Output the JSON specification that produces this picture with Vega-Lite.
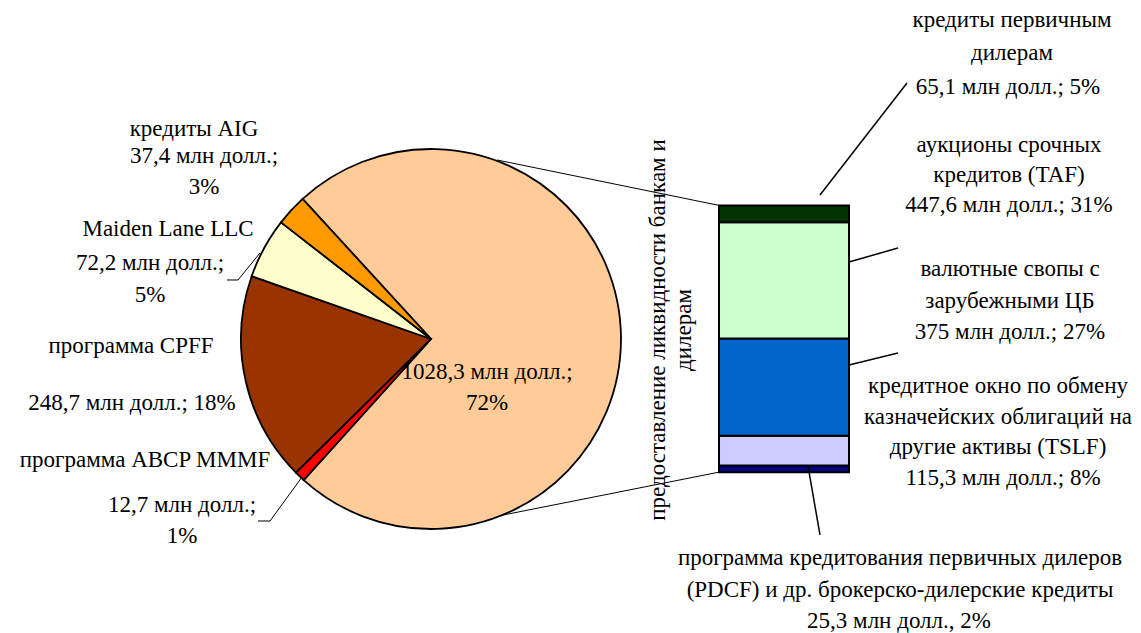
{
  "$schema": "https://vega.github.io/schema/vega-lite/v6.json",
  "width": 1141,
  "height": 633,
  "autosize": {"type": "fit", "contains": "padding"},
  "padding": 0,
  "background": "white",
  "config": {
    "font": "Liberation Serif",
    "view": {"stroke": null},
    "axis": {"disable": true},
    "legend": {"disable": true},
    "text": {"font": "Liberation Serif", "fontSize": 23, "align": "center", "baseline": "alphabetic", "color": "black", "lineHeight": 31},
    "rule": {"color": "black", "strokeWidth": 1}
  },
  "datasets": {
    "pie": [
      {"key": "liquidity", "name": ["предоставление ликвидности банкам и", "дилерам"], "amount": ["1028,3 млн долл.;", "72%"], "value": 1028.3, "ord": 1},
      {"key": "ABCP", "name": "программа ABCP MMMF", "amount": ["12,7 млн долл.;", "1%"], "value": 12.7, "ord": 2},
      {"key": "CPFF", "name": "программа CPFF", "amount": "248,7 млн долл.; 18%", "value": 248.7, "ord": 3},
      {"key": "Maiden", "name": "Maiden Lane LLC", "amount": ["72,2 млн долл.;", "5%"], "value": 72.2, "ord": 4},
      {"key": "AIG", "name": "кредиты AIG", "amount": ["37,4 млн долл.;", "3%"], "value": 37.4, "ord": 5}
    ],
    "bar": [
      {"key": "PDCF", "name": ["программа кредитования первичных дилеров", "(PDCF) и др. брокерско-дилерские кредиты"], "amount": "25,3 млн долл., 2%", "value": 25.3, "ord": 1},
      {"key": "TSLF", "name": ["кредитное окно по обмену", "казначейских облигаций на", "другие активы (TSLF)"], "amount": "115,3 млн долл.; 8%", "value": 115.3, "ord": 2},
      {"key": "swaps", "name": ["валютные свопы с", "зарубежными ЦБ"], "amount": "375 млн долл.; 27%", "value": 375, "ord": 3},
      {"key": "TAF", "name": ["аукционы срочных", "кредитов (TAF)"], "amount": "447,6 млн долл.; 31%", "value": 447.6, "ord": 4},
      {"key": "dealers", "name": ["кредиты первичным", "дилерам"], "amount": "65,1 млн долл.; 5%", "value": 65.1, "ord": 5}
    ]
  },
  "layer": [
    {
      "data": {"values": [{"link": "top"}]},
      "mark": {"type": "rule"},
      "encoding": {
        "x": {"datum": 1916.6, "type": "quantitative", "scale": {"domain": [0, 4400], "nice": false, "zero": false}},
        "y": {"datum": 1203.3, "type": "quantitative", "scale": {"domain": [-620, 1820], "nice": false, "zero": false}},
        "x2": {"datum": 2772.7},
        "y2": {"datum": 1028.3}
      }
    },
    {
      "data": {"values": [{"link": "bottom"}]},
      "mark": {"type": "rule"},
      "encoding": {
        "x": {"datum": 1901.1, "type": "quantitative"},
        "y": {"datum": -172.9, "type": "quantitative"},
        "x2": {"datum": 2772.7},
        "y2": {"datum": 0}
      }
    },
    {
      "data": {"name": "pie"},
      "mark": {"type": "arc", "radius": 190, "stroke": "black", "strokeWidth": 1.8, "x": {"expr": "scale('x', 1662)"}, "y": {"expr": "scale('y', 513.3)"}},
      "encoding": {
        "theta": {"field": "value", "type": "quantitative", "stack": true, "scale": {"range": [-0.7418, 5.5414]}},
        "order": {"field": "ord", "type": "quantitative"},
        "color": {
          "field": "key", "type": "nominal", "legend": null,
          "scale": {
            "domain": ["liquidity", "ABCP", "CPFF", "Maiden", "AIG", "PDCF", "TSLF", "swaps", "TAF", "dealers"],
            "range": ["#FFCC99", "#FF0000", "#993300", "#FFFFCC", "#FF9900", "#000080", "#CCCCFF", "#0066CC", "#CCFFCC", "#003300"]
          }
        }
      }
    },
    {
      "data": {"name": "bar"},
      "transform": [{"stack": "value", "groupby": [], "sort": [{"field": "ord"}], "as": ["b0", "b1"]}],
      "mark": {"type": "rect", "stroke": "black", "strokeWidth": 2, "x": {"expr": "scale('x', 2772.7)"}, "x2": {"expr": "scale('x', 3274.0)"}},
      "encoding": {
        "y": {"field": "b0", "type": "quantitative"},
        "y2": {"field": "b1"},
        "color": {"field": "key", "type": "nominal", "legend": null}
      }
    },
    {
      "data": {"name": "pie"},
      "transform": [{"filter": "datum.key === 'liquidity'"}],
      "layer": [
        {
          "mark": {"type": "text", "font": "Liberation Serif", "angle": 270, "lineHeight": 26},
          "encoding": {"x": {"datum": 2564.5, "type": "quantitative"}, "y": {"datum": 548.0, "type": "quantitative"}, "text": {"field": "name"}}
        },
        {
          "mark": {"type": "text", "font": "Liberation Serif", "lineHeight": 31},
          "encoding": {"x": {"datum": 1878.0, "type": "quantitative"}, "y": {"datum": 359.1, "type": "quantitative"}, "text": {"field": "amount"}}
        }
      ]
    },
    {
      "data": {"name": "pie"},
      "transform": [{"filter": "datum.key === 'AIG'"}],
      "layer": [
        {
          "mark": {"type": "text", "font": "Liberation Serif"},
          "encoding": {"x": {"datum": 748.1, "type": "quantitative"}, "y": {"datum": 1295.8, "type": "quantitative"}, "text": {"field": "name"}}
        },
        {
          "mark": {"type": "text", "font": "Liberation Serif", "lineHeight": 31},
          "encoding": {"x": {"datum": 786.7, "type": "quantitative"}, "y": {"datum": 1191.7, "type": "quantitative"}, "text": {"field": "amount"}}
        }
      ]
    },
    {
      "data": {"name": "pie"},
      "transform": [{"filter": "datum.key === 'Maiden'"}],
      "layer": [
        {
          "mark": {"type": "text", "font": "Liberation Serif"},
          "encoding": {"x": {"datum": 647.9, "type": "quantitative"}, "y": {"datum": 910.3, "type": "quantitative"}, "text": {"field": "name"}}
        },
        {
          "mark": {"type": "text", "font": "Liberation Serif", "lineHeight": 32},
          "encoding": {"x": {"datum": 578.4, "type": "quantitative"}, "y": {"datum": 779.2, "type": "quantitative"}, "text": {"field": "amount"}}
        },
        {
          "mark": {"type": "rule"},
          "encoding": {"x": {"datum": 875.4, "type": "quantitative"}, "y": {"datum": 740.7, "type": "quantitative"}, "x2": {"datum": 917.8}, "y2": {"datum": 740.7}}
        },
        {
          "mark": {"type": "rule"},
          "encoding": {"x": {"datum": 917.8, "type": "quantitative"}, "y": {"datum": 740.7, "type": "quantitative"}, "x2": {"datum": 1002.6}, "y2": {"datum": 844.8}}
        }
      ]
    },
    {
      "data": {"name": "pie"},
      "transform": [{"filter": "datum.key === 'CPFF'"}],
      "layer": [
        {
          "mark": {"type": "text", "font": "Liberation Serif"},
          "encoding": {"x": {"datum": 505.2, "type": "quantitative"}, "y": {"datum": 459.3, "type": "quantitative"}, "text": {"field": "name"}}
        },
        {
          "mark": {"type": "text", "font": "Liberation Serif"},
          "encoding": {"x": {"datum": 509.0, "type": "quantitative"}, "y": {"datum": 239.6, "type": "quantitative"}, "text": {"field": "amount"}}
        }
      ]
    },
    {
      "data": {"name": "pie"},
      "transform": [{"filter": "datum.key === 'ABCP'"}],
      "layer": [
        {
          "mark": {"type": "text", "font": "Liberation Serif"},
          "encoding": {"x": {"datum": 559.2, "type": "quantitative"}, "y": {"datum": 19.9, "type": "quantitative"}, "text": {"field": "name"}}
        },
        {
          "mark": {"type": "text", "font": "Liberation Serif", "lineHeight": 31},
          "encoding": {"x": {"datum": 701.8, "type": "quantitative"}, "y": {"datum": -153.6, "type": "quantitative"}, "text": {"field": "amount"}}
        },
        {
          "mark": {"type": "rule"},
          "encoding": {"x": {"datum": 994.9, "type": "quantitative"}, "y": {"datum": -188.3, "type": "quantitative"}, "x2": {"datum": 1041.2}, "y2": {"datum": -188.3}}
        },
        {
          "mark": {"type": "rule"},
          "encoding": {"x": {"datum": 1041.2, "type": "quantitative"}, "y": {"datum": -188.3, "type": "quantitative"}, "x2": {"datum": 1164.6}, "y2": {"datum": -18.7}}
        }
      ]
    },
    {
      "data": {"name": "bar"},
      "transform": [{"filter": "datum.key === 'dealers'"}],
      "layer": [
        {
          "mark": {"type": "text", "font": "Liberation Serif", "lineHeight": 33},
          "encoding": {"x": {"datum": 3902.5, "type": "quantitative"}, "y": {"datum": 1715.9, "type": "quantitative"}, "text": {"field": "name"}}
        },
        {
          "mark": {"type": "text", "font": "Liberation Serif"},
          "encoding": {"x": {"datum": 3887.1, "type": "quantitative"}, "y": {"datum": 1457.7, "type": "quantitative"}, "text": {"field": "amount"}}
        },
        {
          "mark": {"type": "rule", "strokeWidth": 1.5},
          "encoding": {"x": {"datum": 3162.1, "type": "quantitative"}, "y": {"datum": 1068.3, "type": "quantitative"}, "x2": {"datum": 3497.6}, "y2": {"datum": 1500.1}}
        }
      ]
    },
    {
      "data": {"name": "bar"},
      "transform": [{"filter": "datum.key === 'TAF'"}],
      "layer": [
        {
          "mark": {"type": "text", "font": "Liberation Serif", "lineHeight": 30},
          "encoding": {"x": {"datum": 3891.0, "type": "quantitative"}, "y": {"datum": 1234.1, "type": "quantitative"}, "text": {"field": "name"}}
        },
        {
          "mark": {"type": "text", "font": "Liberation Serif"},
          "encoding": {"x": {"datum": 3891.0, "type": "quantitative"}, "y": {"datum": 1002.8, "type": "quantitative"}, "text": {"field": "amount"}}
        },
        {
          "mark": {"type": "rule", "strokeWidth": 1.5},
          "encoding": {"x": {"datum": 3274.0, "type": "quantitative"}, "y": {"datum": 810.1, "type": "quantitative"}, "x2": {"datum": 3462.9}, "y2": {"datum": 864.0}}
        }
      ]
    },
    {
      "data": {"name": "bar"},
      "transform": [{"filter": "datum.key === 'swaps'"}],
      "layer": [
        {
          "mark": {"type": "text", "font": "Liberation Serif", "lineHeight": 32},
          "encoding": {"x": {"datum": 3894.8, "type": "quantitative"}, "y": {"datum": 756.1, "type": "quantitative"}, "text": {"field": "name"}}
        },
        {
          "mark": {"type": "text", "font": "Liberation Serif"},
          "encoding": {"x": {"datum": 3894.8, "type": "quantitative"}, "y": {"datum": 513.3, "type": "quantitative"}, "text": {"field": "amount"}}
        },
        {
          "mark": {"type": "rule", "strokeWidth": 1.5},
          "encoding": {"x": {"datum": 3274.0, "type": "quantitative"}, "y": {"datum": 413.0, "type": "quantitative"}, "x2": {"datum": 3462.9}, "y2": {"datum": 459.3}}
        }
      ]
    },
    {
      "data": {"name": "bar"},
      "transform": [{"filter": "datum.key === 'TSLF'"}],
      "layer": [
        {
          "mark": {"type": "text", "font": "Liberation Serif", "lineHeight": 30.5},
          "encoding": {"x": {"datum": 3848.6, "type": "quantitative"}, "y": {"datum": 305.1, "type": "quantitative"}, "text": {"field": "name"}}
        },
        {
          "mark": {"type": "text", "font": "Liberation Serif"},
          "encoding": {"x": {"datum": 3867.8, "type": "quantitative"}, "y": {"datum": -49.5, "type": "quantitative"}, "text": {"field": "amount"}}
        }
      ]
    },
    {
      "data": {"name": "bar"},
      "transform": [{"filter": "datum.key === 'PDCF'"}],
      "layer": [
        {
          "mark": {"type": "text", "font": "Liberation Serif", "lineHeight": 31.5},
          "encoding": {"x": {"datum": 3470.6, "type": "quantitative"}, "y": {"datum": -357.9, "type": "quantitative"}, "text": {"field": "name"}}
        },
        {
          "mark": {"type": "text", "font": "Liberation Serif"},
          "encoding": {"x": {"datum": 3466.8, "type": "quantitative"}, "y": {"datum": -600.7, "type": "quantitative"}, "text": {"field": "amount"}}
        },
        {
          "mark": {"type": "rule", "strokeWidth": 1.5},
          "encoding": {"x": {"datum": 3115.9, "type": "quantitative"}, "y": {"datum": 23.7, "type": "quantitative"}, "x2": {"datum": 3162.1}, "y2": {"datum": -242.2}}
        }
      ]
    }
  ]
}
